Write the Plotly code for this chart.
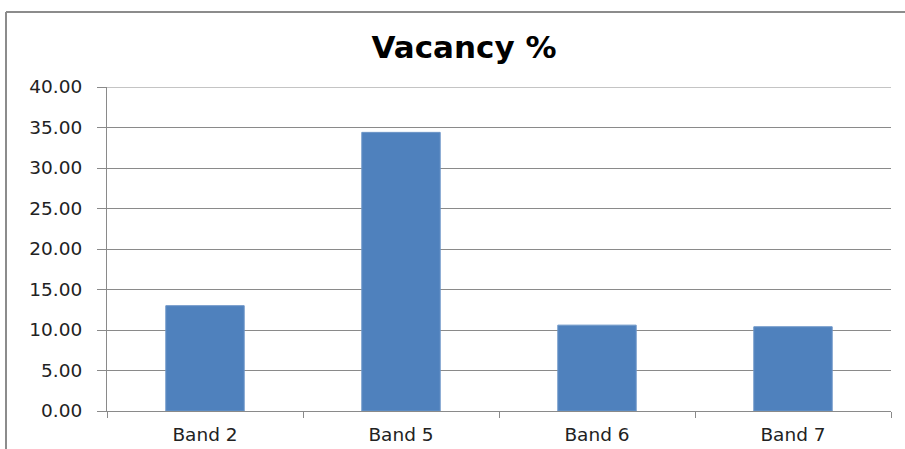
import plotly.graph_objects as go

categories = ["Band 2", "Band 5", "Band 6", "Band 7"]
vacancy = [13.0, 34.4, 10.6, 10.4]
y_ticks = [0, 5, 10, 15, 20, 25, 30, 35, 40]
y_tick_labels = ["%.2f" % v for v in y_ticks]

W, H = 905, 449
ml, mr, mt, mb = 107, 14, 87, 38
pw, ph = W - ml - mr, H - mt - mb

def px_to_paper_x(px):
    return (px - ml) / pw

def px_to_paper_y(py):
    return (H - mb - py) / ph

fig = go.Figure()
fig.add_trace(go.Bar(
    x=categories, y=vacancy,
    marker=dict(color="#4F81BD", line=dict(color="#6d96c8", width=1)),
))

grid_color = "#8a8a8a"

fig.update_layout(
    width=W, height=H,
    margin=dict(l=ml, r=mr, t=mt, b=mb),
    paper_bgcolor="white", plot_bgcolor="white",
    showlegend=False,
    bargap=0.6,
    title=dict(text="<b>Vacancy %</b>", x=464 / W, xanchor="center", xref="container",
               y=1 - 47 / H, yanchor="middle", yref="container",
               font=dict(family="DejaVu Sans", size=31, color="black")),
    font=dict(family="DejaVu Sans", size=18.5, color="#222"),
    xaxis=dict(
        showline=True, linecolor=grid_color, linewidth=1,
        ticks="outside", tickson="boundaries", ticklen=6, tickcolor=grid_color,
        showgrid=False, tickfont=dict(size=18.5, color="#222"),
        ticklabelstandoff=7, automargin=False,
    ),
    yaxis=dict(
        range=[0, 40], tickvals=y_ticks, ticktext=y_tick_labels,
        showline=True, linecolor=grid_color, linewidth=1,
        ticks="outside", ticklen=9, tickcolor=grid_color,
        showgrid=True, gridcolor=grid_color, gridwidth=1,
        zeroline=False, tickfont=dict(size=18.5, color="#222"),
        ticklabelstandoff=11, automargin=False,
    ),
    shapes=[
        dict(type="line", xref="paper", yref="y",
             x0=0, x1=1, y0=y_ticks[-1], y1=y_ticks[-1],
             line=dict(color=grid_color, width=1)),
        dict(type="line", xref="paper", yref="paper",
             x0=px_to_paper_x(6), x1=px_to_paper_x(6),
             y0=px_to_paper_y(12), y1=px_to_paper_y(460),
             line=dict(color="#8c8c8c", width=2)),
        dict(type="line", xref="paper", yref="paper",
             x0=px_to_paper_x(6), x1=px_to_paper_x(920),
             y0=px_to_paper_y(12), y1=px_to_paper_y(12),
             line=dict(color="#8c8c8c", width=2)),
    ],
)

fig.write_html("out.html")
